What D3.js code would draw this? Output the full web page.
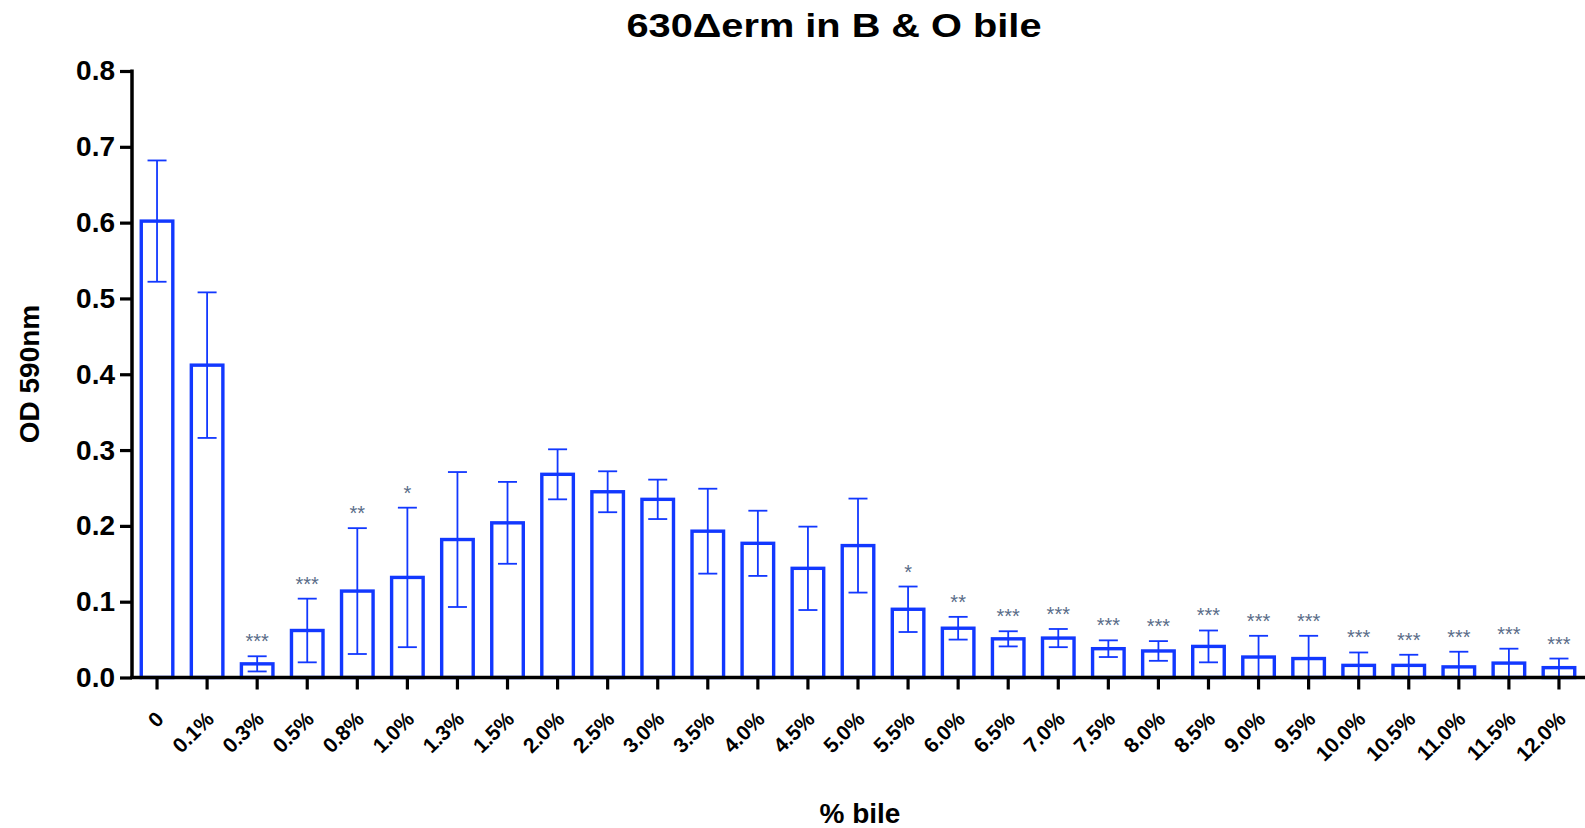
<!DOCTYPE html>
<html>
<head>
<meta charset="utf-8">
<script src="https://cdnjs.cloudflare.com/ajax/libs/d3/7.8.5/d3.min.js"></script>
<style>
  html, body { margin: 0; padding: 0; background: #fff; }
  svg { display: block; }
  text { font-family: Arial, "Liberation Sans", Helvetica, sans-serif; }
</style>
</head>
<body>
<svg id="chart" width="1585" height="828"></svg>
<script>
// Bile concentrations tested
const categories = ["0", "0.1%", "0.3%", "0.5%", "0.8%", "1.0%", "1.3%", "1.5%", "2.0%", "2.5%",
  "3.0%", "3.5%", "4.0%", "4.5%", "5.0%", "5.5%", "6.0%", "6.5%", "7.0%", "7.5%",
  "8.0%", "8.5%", "9.0%", "9.5%", "10.0%", "10.5%", "11.0%", "11.5%", "12.0%"];

// Mean OD 590nm per concentration
const means = [0.602, 0.412, 0.018, 0.062, 0.114, 0.132, 0.182, 0.204, 0.268, 0.245,
  0.235, 0.193, 0.177, 0.144, 0.174, 0.090, 0.065, 0.051, 0.052, 0.038,
  0.035, 0.041, 0.027, 0.025, 0.016, 0.016, 0.014, 0.019, 0.013];

// Standard deviation of each mean
const errors = [0.080, 0.096, 0.010, 0.042, 0.083, 0.092, 0.089, 0.054, 0.033, 0.027,
  0.026, 0.056, 0.043, 0.055, 0.062, 0.030, 0.015, 0.010, 0.012, 0.011,
  0.013, 0.021, 0.028, 0.030, 0.017, 0.014, 0.020, 0.019, 0.012];

// Significance versus the 0% control
const significance = ["", "", "***", "***", "**", "*", "", "", "", "",
  "", "", "", "", "", "*", "**", "***", "***", "***",
  "***", "***", "***", "***", "***", "***", "***", "***", "***"];

const yTicks = [0, 0.1, 0.2, 0.3, 0.4, 0.5, 0.6, 0.7, 0.8];

const data = categories.map((c, i) => ({ cat: c, mean: means[i], err: errors[i], sig: significance[i] }));

const svg = d3.select("#chart");
const blue = "#1238ff";

const plot = { left: 132, right: 1584, top: 71, bottom: 677.5 };

const x = d3.scaleBand()
  .domain(categories)
  .range([plot.left, plot.right])
  .paddingInner(0.37)
  .paddingOuter(0.185);

const y = d3.scaleLinear()
  .domain([0, 0.8])
  .range([plot.bottom, plot.top]);

// Title
svg.append("text")
  .attr("x", 834)
  .attr("y", 37)
  .attr("text-anchor", "middle")
  .attr("font-size", 34)
  .attr("font-weight", "bold")
  .attr("textLength", 415)
  .attr("lengthAdjust", "spacingAndGlyphs")
  .attr("fill", "#000")
  .text("630\u0394erm in B & O bile");

// Bars
const bars = svg.append("g");
bars.selectAll("rect")
  .data(data)
  .enter().append("rect")
  .attr("x", d => x(d.cat))
  .attr("width", x.bandwidth())
  .attr("y", d => y(d.mean))
  .attr("height", d => y(0) - y(d.mean))
  .attr("fill", "none")
  .attr("stroke", blue)
  .attr("stroke-width", 3.4);

// Error bars (mean ± SD)
const capW = 19;
const eb = svg.append("g").attr("stroke", blue).attr("stroke-width", 1.8).attr("fill", "none");
data.forEach(d => {
  const cx = x(d.cat) + x.bandwidth() / 2;
  const lo = Math.max(0, d.mean - d.err);
  const hi = d.mean + d.err;
  eb.append("line").attr("x1", cx).attr("x2", cx).attr("y1", y(lo)).attr("y2", y(hi));
  eb.append("line").attr("x1", cx - capW / 2).attr("x2", cx + capW / 2).attr("y1", y(hi)).attr("y2", y(hi));
  if (d.mean - d.err > 0.004) {
    eb.append("line").attr("x1", cx - capW / 2).attr("x2", cx + capW / 2).attr("y1", y(lo)).attr("y2", y(lo));
  }
});

// Significance stars
svg.append("g").selectAll("text")
  .data(data.filter(d => d.sig))
  .enter().append("text")
  .attr("x", d => x(d.cat) + x.bandwidth() / 2)
  .attr("y", d => y(d.mean + d.err) - 8)
  .attr("text-anchor", "middle")
  .attr("font-size", 20)
  .attr("fill", "#5a6c88")
  .text(d => d.sig);

// Y axis
const yAxis = svg.append("g")
  .attr("transform", `translate(${plot.left},0)`)
  .call(d3.axisLeft(y).tickValues(yTicks).tickFormat(d3.format(".1f")).tickSize(12).tickSizeOuter(0));
yAxis.select(".domain").attr("stroke", "#000").attr("stroke-width", 3.5)
  .attr("d", `M0,${plot.top - 1.5}V${plot.bottom}`);
yAxis.selectAll(".tick line").attr("stroke", "#000").attr("stroke-width", 3.2);
yAxis.selectAll(".tick text")
  .attr("x", -17)
  .attr("font-size", 28)
  .attr("font-weight", "bold")
  .attr("fill", "#000")
  .attr("font-family", "Arial, 'Liberation Sans', sans-serif");

// X axis
const xAxis = svg.append("g")
  .attr("transform", `translate(0,${plot.bottom})`)
  .call(d3.axisBottom(x).tickSize(12).tickSizeOuter(0));
xAxis.select(".domain").attr("stroke", "#000").attr("stroke-width", 3.5)
  .attr("d", `M${plot.left - 1.75},0H1585`);
xAxis.selectAll(".tick line").attr("stroke", "#000").attr("stroke-width", 3.2);
xAxis.selectAll(".tick text")
  .attr("font-size", 21)
  .attr("font-weight", "bold")
  .attr("fill", "#000")
  .attr("font-family", "Arial, 'Liberation Sans', sans-serif")
  .attr("text-anchor", "end")
  .attr("dy", null)
  .attr("y", null)
  .attr("transform", "translate(8,43) rotate(-45)");

// Axis titles
svg.append("text")
  .attr("x", 860)
  .attr("y", 823)
  .attr("text-anchor", "middle")
  .attr("font-size", 28)
  .attr("font-weight", "bold")
  .attr("fill", "#000")
  .text("% bile");

svg.append("text")
  .attr("transform", "translate(39,374) rotate(-90)")
  .attr("text-anchor", "middle")
  .attr("font-size", 28)
  .attr("font-weight", "bold")
  .attr("fill", "#000")
  .text("OD 590nm");
</script>
</body>
</html>
